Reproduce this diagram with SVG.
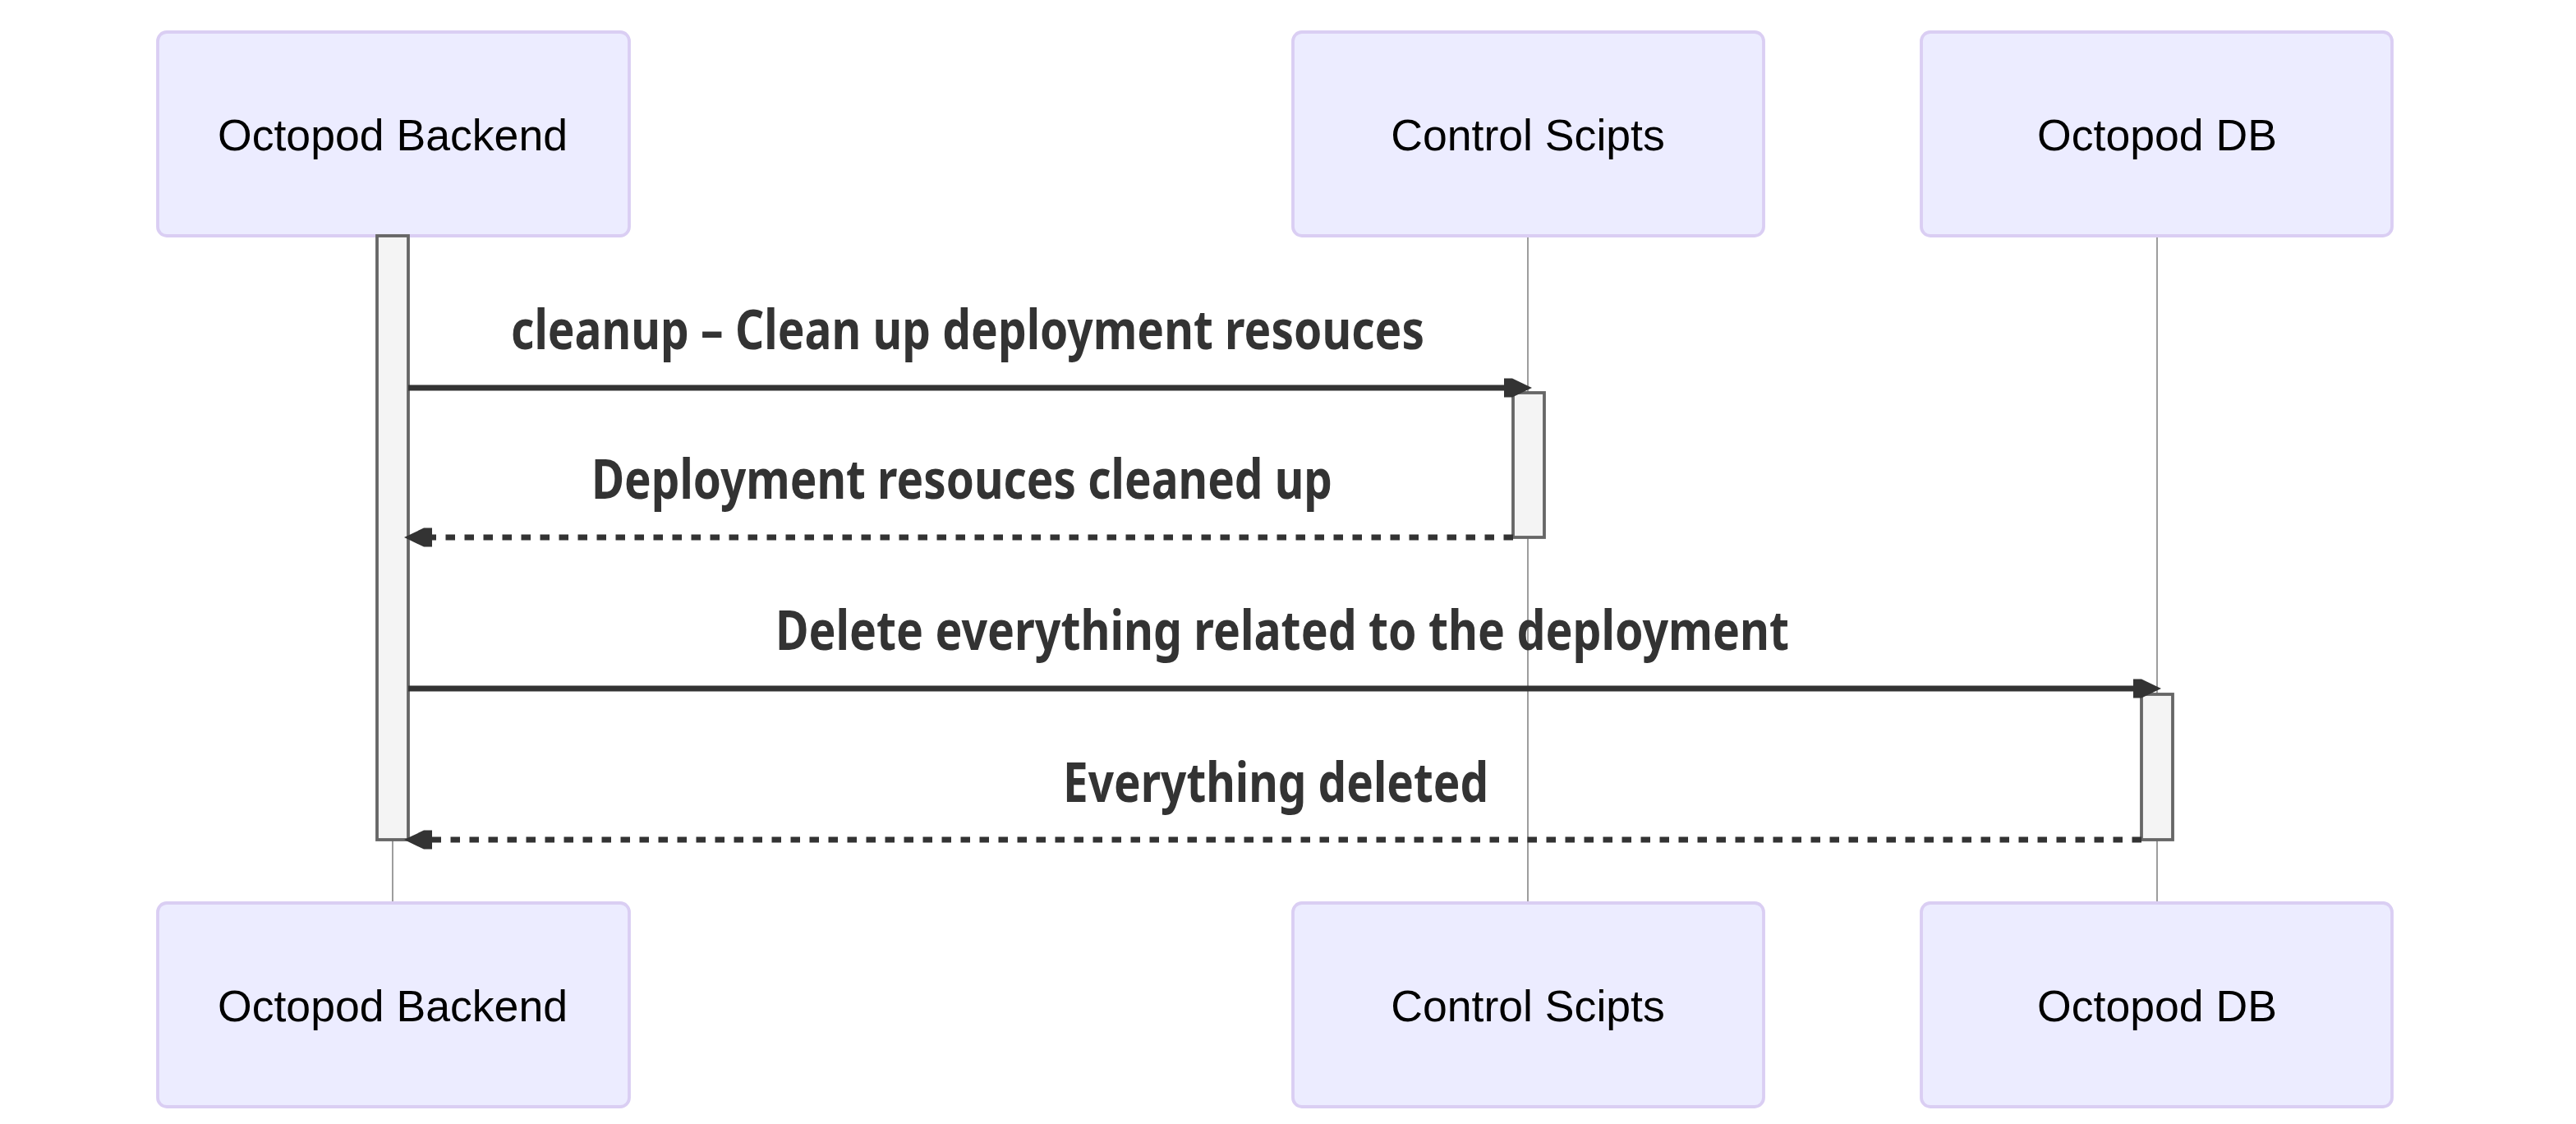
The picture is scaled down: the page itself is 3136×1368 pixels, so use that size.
<svg xmlns="http://www.w3.org/2000/svg" width="3136" height="1368" viewBox="0 0 3136 1368">
<style>
.actor rect{fill:#ECECFF;stroke:#DACEF3;stroke-width:3.8}
.actor text{font-family:"Liberation Sans",Arial,sans-serif;font-size:53.6px;fill:#000;text-anchor:middle}
.lifeline{stroke:#999;stroke-width:1.9}
.act{fill:#F4F4F4;stroke:#666;stroke-width:3.8}
.msg{stroke:#333;stroke-width:7;fill:none}
.dash{stroke-dasharray:11.5 11.5}
.mtext{font-family:"Noto Sans","DejaVu Sans",sans-serif;font-weight:bold;font-size:66px;fill:#333;text-anchor:middle}
</style>
<defs>
<marker id="arrow" viewBox="-36 -14 40 28" refX="-10" refY="0" markerUnits="userSpaceOnUse" markerWidth="40" markerHeight="28" orient="auto">
<path d="M0,0 L-24,-11.5 L-34,-11.5 L-34,11.5 L-24,11.5 Z" fill="#333"/>
</marker>
</defs>
<rect width="3136" height="1368" fill="#fff"/>
<g id="lifelines">
<line class="lifeline" x1="478" y1="287" x2="478" y2="1099"/>
<line class="lifeline" x1="1860" y1="287" x2="1860" y2="1099"/>
<line class="lifeline" x1="2626" y1="287" x2="2626" y2="1099"/>
</g>
<g id="actor-backend-top" class="actor"><rect x="192" y="39" width="574" height="248" rx="11"/><text x="478" y="183">Octopod Backend</text></g>
<g id="actor-control-top" class="actor"><rect x="1574" y="39" width="573" height="248" rx="11"/><text x="1860" y="183">Control Scipts</text></g>
<g id="actor-db-top" class="actor"><rect x="2339" y="39" width="573" height="248" rx="11"/><text x="2626" y="183">Octopod DB</text></g>
<g id="actor-backend-bottom" class="actor"><rect x="192" y="1099" width="574" height="248" rx="11"/><text x="478" y="1243">Octopod Backend</text></g>
<g id="actor-control-bottom" class="actor"><rect x="1574" y="1099" width="573" height="248" rx="11"/><text x="1860" y="1243">Control Scipts</text></g>
<g id="actor-db-bottom" class="actor"><rect x="2339" y="1099" width="573" height="248" rx="11"/><text x="2626" y="1243">Octopod DB</text></g>
<g id="activations">
<rect class="act" x="459" y="287" width="38" height="735"/>
<rect class="act" x="1842" y="478" width="38" height="176"/>
<rect class="act" x="2607" y="845" width="38" height="177"/>
</g>
<g id="connectors">
<line class="msg" x1="497" y1="472" x2="1855" y2="472" marker-end="url(#arrow)"/>
<line class="msg dash" x1="1842" y1="654" x2="502" y2="654" marker-end="url(#arrow)"/>
<line class="msg" x1="497" y1="838" x2="2621" y2="838" marker-end="url(#arrow)"/>
<line class="msg dash" x1="2607" y1="1022" x2="502" y2="1022" marker-end="url(#arrow)"/>
</g>
<g id="labels">
<text class="mtext" x="1178" y="425" textLength="1112" lengthAdjust="spacingAndGlyphs">cleanup – Clean up deployment resouces</text>
<text class="mtext" x="1171" y="607" textLength="902" lengthAdjust="spacingAndGlyphs">Deployment resouces cleaned up</text>
<text class="mtext" x="1561" y="791" textLength="1234" lengthAdjust="spacingAndGlyphs">Delete everything related to the deployment</text>
<text class="mtext" x="1553" y="976" textLength="518" lengthAdjust="spacingAndGlyphs">Everything deleted</text>
</g>
</svg>
